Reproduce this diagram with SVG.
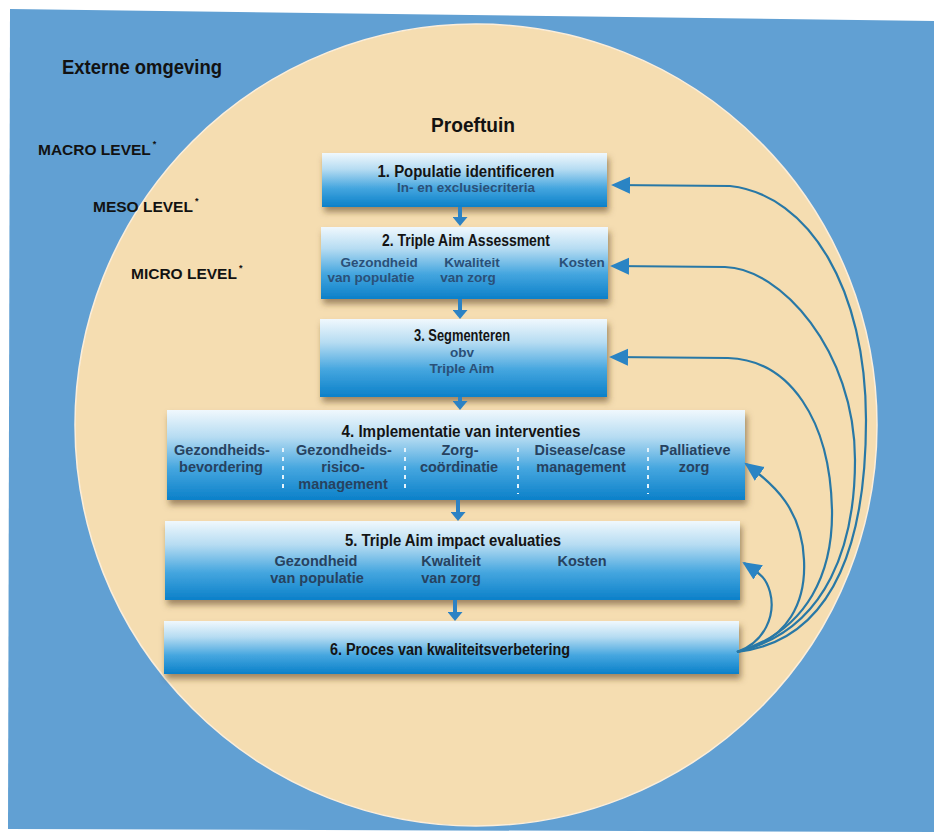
<svg xmlns="http://www.w3.org/2000/svg" width="934" height="837" viewBox="0 0 934 837">
<style>
text { font-family: "Liberation Sans", Arial, sans-serif; font-weight: bold; }
.lbl { fill: #121212; }
.t { fill: #141414; font-size: 16px; text-anchor: middle; }
.s { fill: #2a5078; font-size: 13.5px; text-anchor: middle; }
.c { fill: #27425f; font-size: 14.5px; text-anchor: middle; }
.box { fill: url(#boxg); filter: url(#sh); }
.div { stroke: #e4f3fc; stroke-width: 2; stroke-dasharray: 4 5; }
.fb { fill: none; stroke: #2878a6; stroke-width: 2.2; marker-end: url(#ch); }
.dn { stroke: #2b82c4; stroke-width: 4; marker-end: url(#dh); }
</style>
<defs>
<linearGradient id="boxg" x1="0" y1="0" x2="0" y2="1">
<stop offset="0" stop-color="#f0f8fd"/>
<stop offset="0.3" stop-color="#b6dcf2"/>
<stop offset="0.65" stop-color="#45a6df"/>
<stop offset="1" stop-color="#0b80c9"/>
</linearGradient>
<filter id="sh" x="-5%" y="-20%" width="110%" height="160%">
<feDropShadow dx="2" dy="5" stdDeviation="3" flood-color="#5a4020" flood-opacity="0.55"/>
</filter>
<marker id="ch" markerUnits="userSpaceOnUse" markerWidth="20" markerHeight="18" refX="17" refY="8.5" orient="auto">
<path d="M0,0 L19,8.5 L0,17 z" fill="#2a84c4"/>
</marker>
<marker id="dh" markerUnits="userSpaceOnUse" markerWidth="10" markerHeight="15" refX="0" refY="7.5" orient="auto">
<path d="M0,0 L9,7.5 L0,15 z" fill="#2b82c4"/>
</marker>
</defs>

<g id="background">
<rect x="0" y="0" width="934" height="837" fill="#ffffff"/>
<polygon points="10,9 934,21 934,832 8,829" fill="#61a0d3"/>
<circle cx="476" cy="425" r="401" fill="#f5ddb1" stroke="#fbeedb" stroke-width="1.5"/>
</g>

<g id="labels">
<text class="lbl" x="62" y="74" font-size="19.5" textLength="160" lengthAdjust="spacingAndGlyphs">Externe omgeving</text>
<text class="lbl" x="473" y="132" font-size="20" text-anchor="middle" textLength="84" lengthAdjust="spacingAndGlyphs">Proeftuin</text>
<text class="lbl" x="38" y="155" font-size="15.5">MACRO LEVEL<tspan font-size="9" dx="2" dy="-8">*</tspan></text>
<text class="lbl" x="93" y="212" font-size="15.5">MESO LEVEL<tspan font-size="9" dx="2" dy="-8">*</tspan></text>
<text class="lbl" x="131" y="279" font-size="15.5">MICRO LEVEL<tspan font-size="9" dx="2" dy="-8">*</tspan></text>
</g>

<g id="node1">
<rect class="box" x="322" y="153" width="285" height="54"/>
<text class="t" x="466" y="177" textLength="177" lengthAdjust="spacingAndGlyphs">1. Populatie identificeren</text>
<text class="s" x="466" y="192">In- en exclusiecriteria</text>
</g>

<g id="node2">
<rect class="box" x="321" y="227" width="287" height="72"/>
<text class="t" x="466" y="246" textLength="168" lengthAdjust="spacingAndGlyphs">2. Triple Aim Assessment</text>
<text class="s" x="379" y="267">Gezondheid</text>
<text class="s" x="472" y="267">Kwaliteit</text>
<text class="s" x="582" y="267">Kosten</text>
<text class="s" x="371" y="282">van populatie</text>
<text class="s" x="468" y="282">van zorg</text>
</g>

<g id="node3">
<rect class="box" x="320" y="319" width="287" height="78"/>
<text class="t" x="462" y="341" textLength="96" lengthAdjust="spacingAndGlyphs">3. Segmenteren</text>
<text class="s" x="462" y="357">obv</text>
<text class="s" x="462" y="373">Triple Aim</text>
</g>

<g id="node4">
<rect class="box" x="167" y="410" width="578" height="90"/>
<text class="t" x="461" y="437" textLength="239" lengthAdjust="spacingAndGlyphs">4. Implementatie van interventies</text>
<text class="c" x="222" y="455">Gezondheids-</text>
<text class="c" x="221" y="472">bevordering</text>
<text class="c" x="344" y="455">Gezondheids-</text>
<text class="c" x="343" y="472">risico-</text>
<text class="c" x="343" y="489">management</text>
<text class="c" x="460" y="455">Zorg-</text>
<text class="c" x="459" y="472">coördinatie</text>
<text class="c" x="580" y="455">Disease/case</text>
<text class="c" x="581" y="472">management</text>
<text class="c" x="695" y="455">Palliatieve</text>
<text class="c" x="694" y="472">zorg</text>
<line class="div" x1="283" y1="448" x2="283" y2="492"/>
<line class="div" x1="405" y1="448" x2="405" y2="492"/>
<line class="div" x1="518" y1="448" x2="518" y2="494"/>
<line class="div" x1="648" y1="448" x2="648" y2="494"/>
</g>

<g id="node5">
<rect class="box" x="165" y="521" width="575" height="79"/>
<text class="t" x="453" y="546" textLength="216" lengthAdjust="spacingAndGlyphs">5. Triple Aim impact evaluaties</text>
<text class="c" x="316" y="566">Gezondheid</text>
<text class="c" x="451" y="566">Kwaliteit</text>
<text class="c" x="582" y="566">Kosten</text>
<text class="c" x="317" y="583">van populatie</text>
<text class="c" x="451" y="583">van zorg</text>
</g>

<g id="node6">
<rect class="box" x="164" y="621" width="575" height="53"/>
<text class="t" x="450" y="655" textLength="240" lengthAdjust="spacingAndGlyphs">6. Proces van kwaliteitsverbetering</text>
</g>

<g id="connectors">
<line class="dn" x1="460" y1="207" x2="460" y2="217"/>
<line class="dn" x1="460" y1="299" x2="460" y2="310"/>
<line class="dn" x1="460" y1="397" x2="460" y2="401"/>
<line class="dn" x1="458" y1="500" x2="458" y2="512"/>
<line class="dn" x1="455" y1="600" x2="455" y2="612"/>
<path class="fb" d="M737,652 C840,640 866,530 866,420 C866,290 810,195 730,186 L613,185"/>
<path class="fb" d="M737,652 C830,630 855,540 855,460 C855,350 780,268 725,267 L612,266"/>
<path class="fb" d="M737,652 C810,630 833,570 832,510 C830,420 790,360 728,358 L611,357"/>
<path class="fb" d="M737,652 C790,640 806,600 804,560 C802,510 775,485 746,464"/>
<path class="fb" d="M737,652 C765,642 776,615 770,592 C766,578 762,575 744,563"/>
</g>
</svg>
